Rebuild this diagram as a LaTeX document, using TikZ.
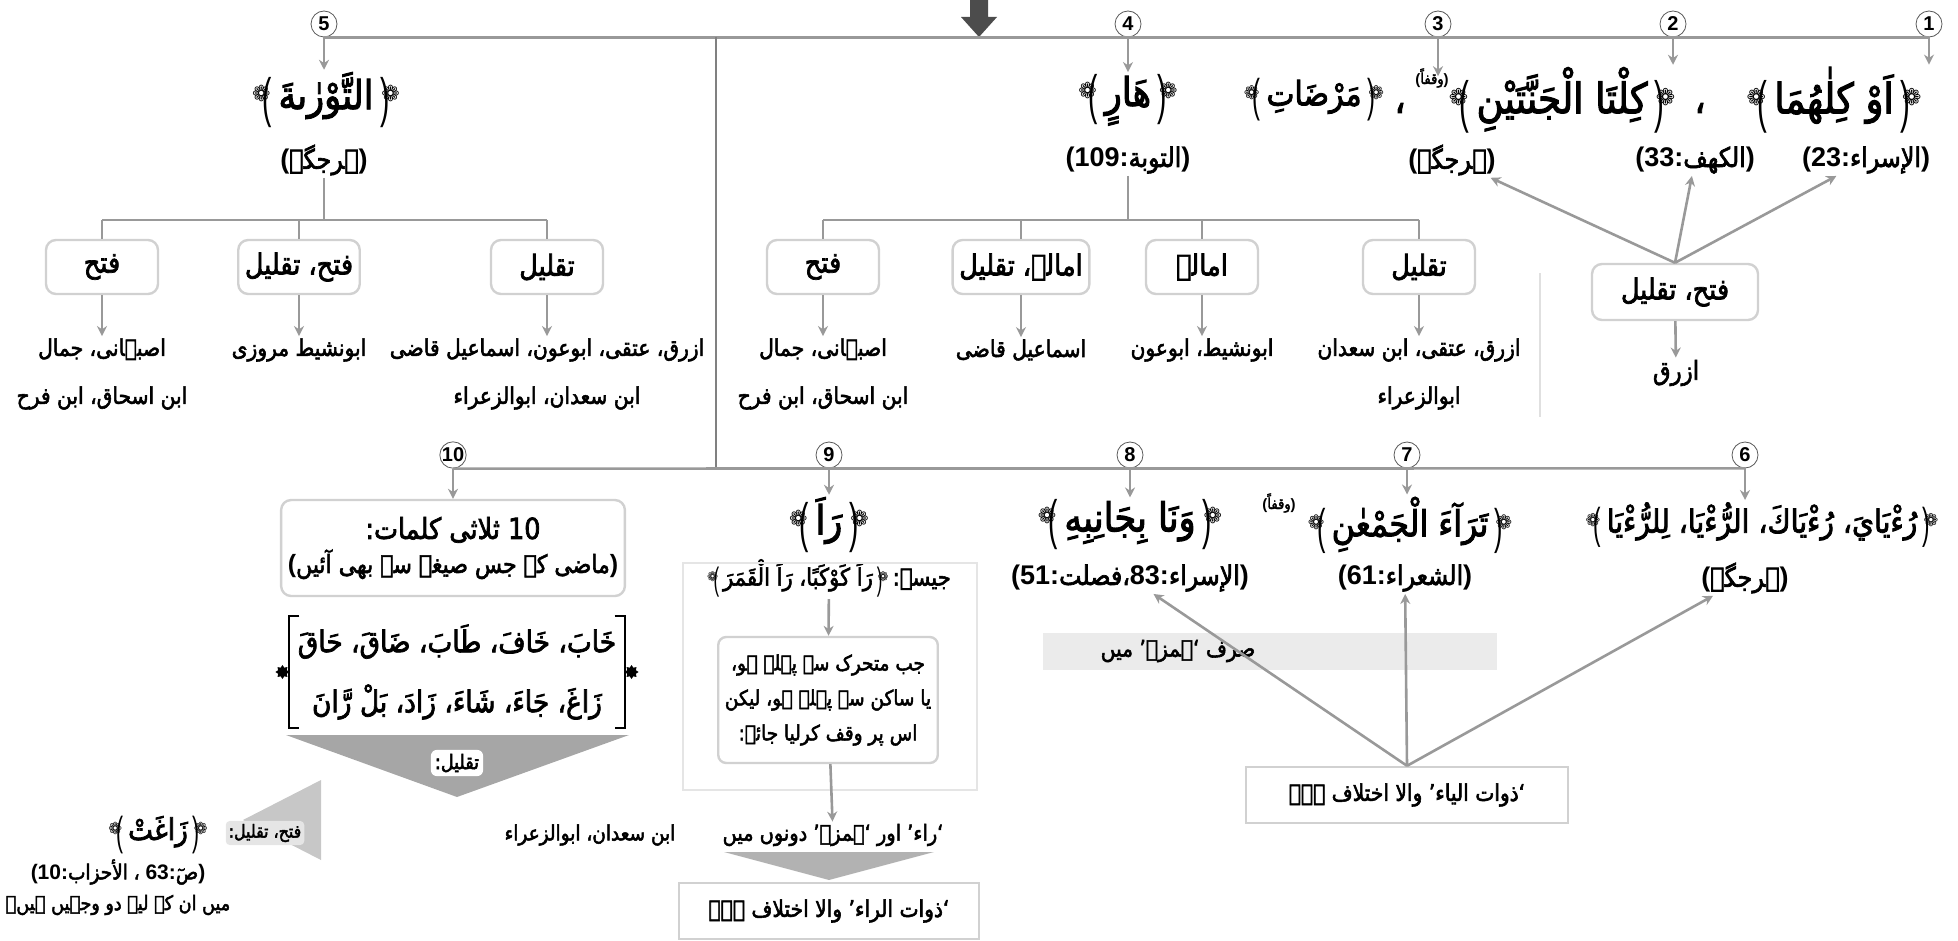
\documentclass[tikz,border=0pt]{standalone}
\usepackage{fontspec}
\setmainfont{Liberation Sans}
\newfontfamily\arfont[Script=Arabic,FakeStretch=0.88,FakeBold=2.4]{DejaVu Sans}
\newfontfamily\symfont{DejaVu Sans}
\TeXXeTstate=1
\usetikzlibrary{positioning,arrows.meta,calc,shapes.geometric}

\newcommand\ar[1]{{\arfont\mdseries\beginR#1\endR}}
% ornate brackets drawn from a flower and a stretched parenthesis
\newcommand\obl{\mbox{{\symfont\mdseries\raisebox{.35ex}{\scalebox{.55}{❁}}}\kern-.2em{\mdseries\raisebox{-.35ex}{\scalebox{.7}[1.35]{(}}}}}
\newcommand\obr{\mbox{{\mdseries\raisebox{-.35ex}{\scalebox{.7}[1.35]{)}}}\kern-.2em{\symfont\mdseries\raisebox{.35ex}{\scalebox{.55}{❁}}}}}
\newcommand\orn[1]{\obl\,\ar{#1}\,\obr}
\newcommand\fsz[1]{\fontsize{#1}{1.2\dimexpr#1pt}\selectfont\bfseries}
\newcommand\bdfont{\fontsize{11.5}{24}\selectfont\bfseries}
\newcommand\smfont{\fontsize{10.5}{17.5}\selectfont\bfseries}

\tikzset{
  numc/.style={circle,draw=black!65,thin,fill=white,inner sep=0pt,minimum size=13pt,font=\bfseries\fontsize{10}{10}\selectfont},
  link/.style={draw=black!40,line width=1.3pt},
  tip/.style={link,-{Stealth[length=5pt,width=5pt]}},
  optbox/.style={draw=black!18,line width=1.2pt,rounded corners=5pt,fill=white,minimum width=56pt,minimum height=27pt,font=\fsz{14.5}},
  plainbox/.style={draw=black!18,line width=1.2pt,fill=white,font=\bdfont},
  txt/.style={font=\bdfont,align=center,inner sep=1pt},
  hdg/.style={font=\fsz{20},inner sep=1pt},
  refl/.style={font=\fsz{13.5},inner sep=1pt},
  supl/.style={font=\fsz{7.5},inner sep=0pt},
  orna/.style={star,star points=8,fill=black,inner sep=0pt,minimum size=7pt},
}

\begin{document}
\begin{tikzpicture}[x=0.5pt,y=-0.5pt]
\useasboundingbox (0,0) rectangle (1958,941);
% ---------------- top bar ----------------
\fill[black!70] (970,0) -- (988,0) -- (988,17) -- (997,17) -- (979,37) -- (961,17) -- (970,17) -- cycle;
\node[numc] (c5) at (324,24) {5};
\node[numc] (c4) at (1128,24) {4};
\node[numc] (c3) at (1438,24) {3};
\node[numc] (c2) at (1673,24) {2};
\node[numc] (c1) at (1929,24) {1};
\draw[link] (c5.south) -- (c1.south);
\coordinate (vt) at (716,37);
\coordinate (vb) at (716,468);
\draw[draw=black!50,line width=1pt] (vt) -- (vb);

% headings of the first row
\node[hdg] (h5) at (326,100) {\orn{التَّوْرٰىةَ}};
\node[refl] (r5) at (324,160) {(\ar{ہرجگہ})};
\node[hdg] (h4) at (1128,100) {\orn{هَارٍ}};
\node[refl] (r4) at (1128,160) {(109:\ar{التوبة})};
\node[hdg,font=\fsz{17}] (h3) at (1314,100) {\orn{مَرْضَاتِ}};
\node[hdg,inner sep=0pt] (k3) at (1400,108) {\ar{،}};
\node[supl] (s2) at (1432,78) {(\ar{وقفاً})};
\node[hdg,font=\fsz{21}] (h2) at (1562,100) {\orn{كِلْتَا الْجَنَّتَيْنِ}};
\node[hdg,inner sep=0pt] (k2) at (1700,108) {\ar{،}};
\node[hdg,font=\fsz{21}] (h1) at (1834,100) {\orn{اَوْ كِلٰهُمَا}};
\node[refl] (r3) at (1452,160) {(\ar{ہرجگہ})};
\node[refl] (r2) at (1695,160) {(33:\ar{الكهف})};
\node[refl] (r1) at (1866,160) {(23:\ar{الإسراء})};
\foreach \c/\h in {c5/h5,c4/h4,c3/h3,c2/h2,c1/h1}
  \draw[tip] (\c.south) -- (\c.south |- \h.north);

% group 5
\node[optbox] (p5a) at (102,267) {\ar{فتح}};
\node[optbox] (p5b) at (299,267) {\ar{فتح، تقلیل}};
\node[optbox] (p5c) at (547,267) {\ar{تقلیل}};
\coordinate (j5) at (324,220);
\draw[link] (r5) -- (j5);
\draw[link] (j5 -| p5a) -- (j5 -| p5c);
\foreach \p in {p5a,p5b,p5c} \draw[link] (j5 -| \p) -- (\p);
\node[txt] (t5a) at (102,374) {\ar{اصبہانی، جمال}\\\ar{ابن اسحاق، ابن فرح}};
\node[txt] (t5b) at (299,350) {\ar{ابونشیط مروزی}};
\node[txt] (t5c) at (547,374) {\ar{ازرق، عتقی، ابوعون، اسماعیل قاضی}\\\ar{ابن سعدان، ابوالزعراء}};
\foreach \p/\t in {p5a/t5a,p5b/t5b,p5c/t5c} \draw[tip] (\p) -- (\t);

% group 4
\node[optbox] (p4a) at (823,267) {\ar{فتح}};
\node[optbox] (p4b) at (1021,267) {\ar{امالہ، تقلیل}};
\node[optbox] (p4c) at (1202,267) {\ar{امالہ}};
\node[optbox] (p4d) at (1419,267) {\ar{تقلیل}};
\coordinate (j4) at (1128,220);
\draw[link] (r4) -- (j4);
\draw[link] (j4 -| p4a) -- (j4 -| p4d);
\foreach \p in {p4a,p4b,p4c,p4d} \draw[link] (j4 -| \p) -- (\p);
\node[txt] (t4a) at (823,374) {\ar{اصبہانی، جمال}\\\ar{ابن اسحاق، ابن فرح}};
\node[txt] (t4b) at (1021,350) {\ar{اسماعیل قاضی}};
\node[txt] (t4c) at (1202,350) {\ar{ابونشیط، ابوعون}};
\node[txt] (t4d) at (1419,374) {\ar{ازرق، عتقی، ابن سعدان}\\\ar{ابوالزعراء}};
\foreach \p/\t in {p4a/t4a,p4b/t4b,p4c/t4c,p4d/t4d} \draw[tip] (\p) -- (\t);

% groups 1-3
\node[optbox,minimum width=83pt,minimum height=28pt] (p1) at (1675,292) {\ar{فتح، تقلیل}};
\node[txt,font=\fsz{13}] (t1) at (1676,373) {\ar{ازرق}};
\foreach \r in {r3,r2,r1} \draw[tip] (p1.north) -- (\r);
\draw[tip] (p1) -- (t1);
\draw[black!12,line width=1pt] (1540,273) -- (1540,417);

% ---------------- second row ----------------
\node[numc] (c10) at (453,455) {10};
\node[numc] (c9) at (829,455) {9};
\node[numc] (c8) at (1130,455) {8};
\node[numc] (c7) at (1407,455) {7};
\node[numc] (c6) at (1745,455) {6};
\draw[link] (c10.south) -- (c6.south);

\node[hdg] (h9) at (829,525) {\orn{رَاَ}};
\node[refl,font=\fsz{12}] (e9) at (829,578) {\orn{رَاَ كَوْكَبًا، رَاَ الْقَمَرَ}\,\ar{جیسے:}};
\node[hdg] (h8) at (1130,525) {\orn{وَنَا بِجَانِبِهِ}};
\node[refl] (r8) at (1130,578) {(51:\ar{فصلت}\ar{،}83:\ar{الإسراء})};
\node[hdg,font=\fsz{18}] (h7) at (1410,525) {\orn{تَرَآءَ الْجَمْعٰنِ}};
\node[supl] (s7) at (1279,503) {(\ar{وقفاً})};
\node[refl] (r7) at (1405,578) {(61:\ar{الشعراء})};
\node[hdg,font=\fsz{16}] (h6) at (1762,525) {\orn{رُءْيَايَ، رُءْيَاكَ، الرُّءْيَا، لِلرُّءْيَا}};
\node[refl] (r6) at (1745,578) {(\ar{ہرجگہ})};
\foreach \c/\h in {c9/h9,c8/h8,c7/h7,c6/h6}
  \draw[tip] (\c.south) -- (\c.south |- \h.north);

% ya-group: hamza only
\fill[black!8] (1043,633) rectangle (1497,670);
\node[txt] (sb) at (1178,651) {\ar{صرف ‘ہمزہ’ میں}};
\node[plainbox,minimum width=161pt,minimum height=28pt] (z6) at (1407,795) {\ar{‘ذوات الیاء’ والا اختلاف ہے۔}};
\foreach \r in {r8,r7,r6} \draw[tip] (z6.north) -- (\r);

% column 9
\draw[black!10,line width=1pt] (683,563) rectangle (977,790);
\node[plainbox,rounded corners=4pt,align=center,font=\smfont,minimum width=103pt,minimum height=63pt] (b9) at (828,700)
  {\ar{جب متحرک سے پہلے ہو،}\\\ar{یا ساکن سے پہلے ہو، لیکن}\\\ar{اس پر وقف کرلیا جائے:}};
\draw[tip] (e9) -- (b9);
\node[txt,font=\fsz{11}] (w9) at (833,835) {\ar{‘راء’ اور ‘ہمزہ’ دونوں میں}};
\draw[tip] (b9) -- (w9);
\fill[black!30] (724,852) -- (934,852) -- (829,880) -- cycle;
\node[plainbox,minimum width=150pt,minimum height=28pt] (z9) at (829,911) {\ar{‘ذوات الراء’ والا اختلاف ہے۔}};

% column 10
\node[optbox,align=center,font=\fontsize{12.5}{17}\selectfont\bfseries,minimum width=145pt,minimum height=48pt] (b10) at (453,548)
  {{\fsz{14.5}\ar{10 ثلاثی کلمات:}}\\(\ar{ماضی کے جس صیغے سے بھی آئیں})};
\draw[tip] (c10) -- (b10);
\node[font=\fontsize{15}{30}\selectfont\bfseries,align=center,inner sep=4pt] (w10) at (457,672)
  {\ar{خَابَ، خَافَ، طَابَ، ضَاقَ، حَاقَ}\\\ar{زَاغَ، جَاءَ، شَاءَ، زَادَ، بَلْ رَّانَ}};
\draw[line width=1pt] ([xshift=5pt]w10.north west) -- (w10.north west) -- (w10.south west) -- ([xshift=5pt]w10.south west);
\draw[line width=1pt] ([xshift=-5pt]w10.north east) -- (w10.north east) -- (w10.south east) -- ([xshift=-5pt]w10.south east);
\node[orna] (o10a) at ([xshift=-3.5pt]w10.west) {};
\node[orna] (o10b) at ([xshift=3.5pt]w10.east) {};
\fill[black!35] (286,735) -- (629,735) -- (457,797) -- cycle;
\node[fill=white,rounded corners=3pt,inner sep=2pt,font=\fsz{10}] (l10) at (457,763) {\ar{تقلیل:}};
\node[txt,font=\fsz{10.5}] (n10) at (590,835) {\ar{ابن سعدان، ابوالزعراء}};
\fill[black!22] (321,780) -- (321,860) -- (243,820) -- cycle;
\node[fill=black!10,rounded corners=2pt,inner sep=1.5pt,font=\fsz{9}] (f10) at (265,833) {\ar{فتح، تقلیل:}};
\node[hdg,font=\fsz{15}] (zg) at (158,835) {\orn{زَاغَتْ}};
\node[refl,font=\fsz{10.5}] (zr) at (118,872) {(10:\ar{الأحزاب} \ar{،} 63:\ar{صٓ})};
\node[txt,font=\fsz{10}] (zm) at (118,905) {\ar{میں ان کے لیے دو وجہیں ہیں۔}};
\end{tikzpicture}
\end{document}
